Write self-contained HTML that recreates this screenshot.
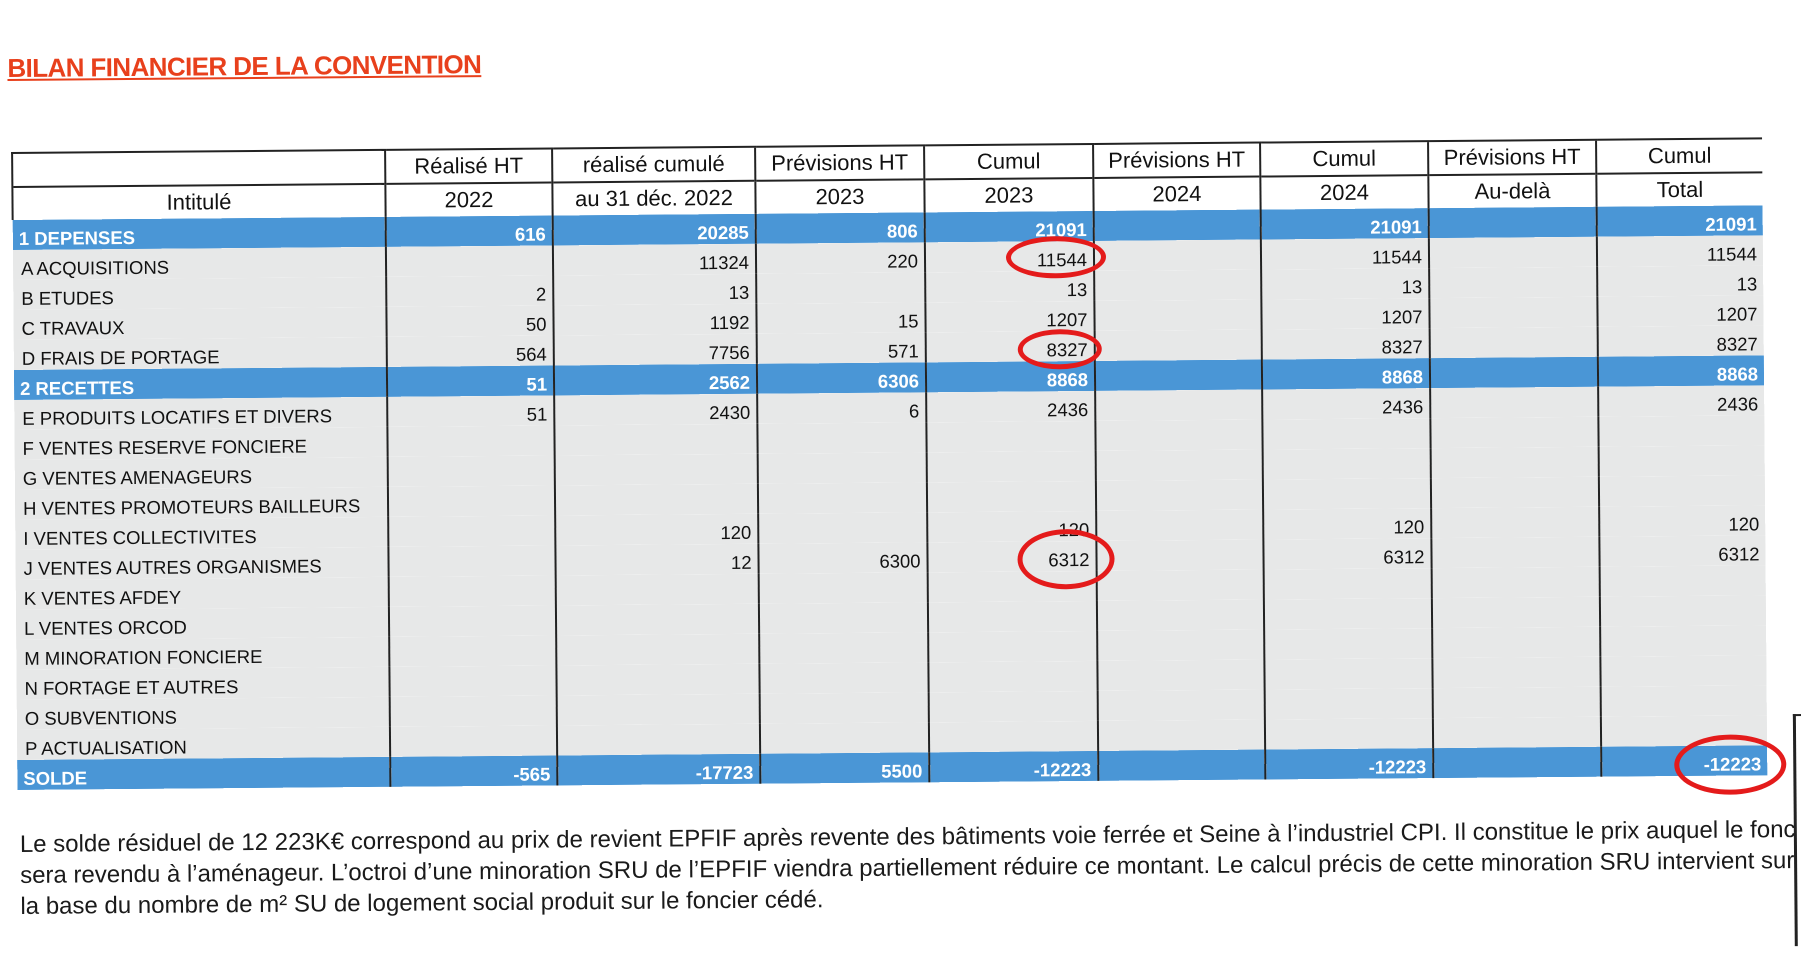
<!DOCTYPE html>
<html><head><meta charset="utf-8">
<style>
body{margin:0;width:1801px;height:945px;background:#fff;overflow:hidden;position:relative;font-family:"Liberation Sans",sans-serif;}
#page{position:absolute;left:0;top:0;width:1801px;height:945px;transform:rotate(-0.48deg);transform-origin:14px 500px;}
#title{position:absolute;left:11px;top:53px;font-weight:bold;font-size:26px;color:#e8401c;text-decoration:underline;text-decoration-color:#e8401c;letter-spacing:-0.6px;}
table{position:absolute;left:14px;top:152px;border-collapse:collapse;table-layout:fixed;width:1750px;}
td{padding:0 6px;font-size:18.5px;color:#111;white-space:nowrap;overflow:hidden;border-left:2px solid #222;text-align:right;vertical-align:bottom;}
td:first-child{text-align:left;border-left:none;}
tr.h td{background:#fff;text-align:center;font-size:22px;vertical-align:middle;}
tr.h1 td{border-top:2px solid #222;height:32px;}
tr.h2 td{border-top:2px solid #222;height:32px;}
tr.h2 td:first-child{border-left:2px solid #222;}
tr.h1 td:first-child{border-left:2px solid #222;}
tr.b td{background:#4a96d6;color:#fff;font-weight:bold;height:30px;}
tr.r td{background:#e7e8e8;height:30px;}
tr.r td:first-child{padding-left:8px;}
#para{position:absolute;left:17px;top:829px;width:1775px;font-size:24px;line-height:31px;color:#1a1a1a;white-space:nowrap;overflow:hidden;}
.ell{position:absolute;border:5px solid #e41b1b;border-radius:50%;box-sizing:border-box;}
#box{position:absolute;left:1791px;top:729px;width:20px;height:230px;border-left:3px solid #222;border-top:2px solid #222;}
</style></head><body>
<div id="page">
<div id="title">BILAN FINANCIER DE LA CONVENTION</div>
<table>
<colgroup><col style="width:373px"><col style="width:167px"><col style="width:203px"><col style="width:169px"><col style="width:169px"><col style="width:167px"><col style="width:168px"><col style="width:168px"><col style="width:166px"></colgroup>
<tr class="h h1"><td></td><td>Réalisé HT</td><td>réalisé cumulé</td><td>Prévisions HT</td><td>Cumul</td><td>Prévisions HT</td><td>Cumul</td><td>Prévisions HT</td><td>Cumul</td></tr>
<tr class="h h2"><td style="text-align:center">Intitulé</td><td>2022</td><td>au 31 déc. 2022</td><td>2023</td><td>2023</td><td>2024</td><td>2024</td><td>Au-delà</td><td>Total</td></tr>
<tr class="b"><td>1 DEPENSES</td><td>616</td><td>20285</td><td>806</td><td>21091</td><td></td><td>21091</td><td></td><td>21091</td></tr>
<tr class="r"><td>A ACQUISITIONS</td><td></td><td>11324</td><td>220</td><td>11544</td><td></td><td>11544</td><td></td><td>11544</td></tr>
<tr class="r"><td>B ETUDES</td><td>2</td><td>13</td><td></td><td>13</td><td></td><td>13</td><td></td><td>13</td></tr>
<tr class="r"><td>C TRAVAUX</td><td>50</td><td>1192</td><td>15</td><td>1207</td><td></td><td>1207</td><td></td><td>1207</td></tr>
<tr class="r"><td>D FRAIS DE PORTAGE</td><td>564</td><td>7756</td><td>571</td><td>8327</td><td></td><td>8327</td><td></td><td>8327</td></tr>
<tr class="b"><td>2 RECETTES</td><td>51</td><td>2562</td><td>6306</td><td>8868</td><td></td><td>8868</td><td></td><td>8868</td></tr>
<tr class="r"><td>E PRODUITS LOCATIFS ET DIVERS</td><td>51</td><td>2430</td><td>6</td><td>2436</td><td></td><td>2436</td><td></td><td>2436</td></tr>
<tr class="r"><td>F VENTES RESERVE FONCIERE</td><td></td><td></td><td></td><td></td><td></td><td></td><td></td><td></td></tr>
<tr class="r"><td>G VENTES AMENAGEURS</td><td></td><td></td><td></td><td></td><td></td><td></td><td></td><td></td></tr>
<tr class="r"><td>H VENTES PROMOTEURS BAILLEURS</td><td></td><td></td><td></td><td></td><td></td><td></td><td></td><td></td></tr>
<tr class="r"><td>I VENTES COLLECTIVITES</td><td></td><td>120</td><td></td><td>120</td><td></td><td>120</td><td></td><td>120</td></tr>
<tr class="r"><td>J VENTES AUTRES ORGANISMES</td><td></td><td>12</td><td>6300</td><td>6312</td><td></td><td>6312</td><td></td><td>6312</td></tr>
<tr class="r"><td>K VENTES AFDEY</td><td></td><td></td><td></td><td></td><td></td><td></td><td></td><td></td></tr>
<tr class="r"><td>L VENTES ORCOD</td><td></td><td></td><td></td><td></td><td></td><td></td><td></td><td></td></tr>
<tr class="r"><td>M MINORATION FONCIERE</td><td></td><td></td><td></td><td></td><td></td><td></td><td></td><td></td></tr>
<tr class="r"><td>N FORTAGE ET AUTRES</td><td></td><td></td><td></td><td></td><td></td><td></td><td></td><td></td></tr>
<tr class="r"><td>O SUBVENTIONS</td><td></td><td></td><td></td><td></td><td></td><td></td><td></td><td></td></tr>
<tr class="r"><td>P ACTUALISATION</td><td></td><td></td><td></td><td></td><td></td><td></td><td></td><td></td></tr>
<tr class="b"><td>SOLDE</td><td>-565</td><td>-17723</td><td>5500</td><td>-12223</td><td></td><td>-12223</td><td></td><td>-12223</td></tr>
</table>
<div class="ell" style="left:1008px;top:245px;width:100px;height:42px;"></div>
<div class="ell" style="left:1019px;top:338px;width:84px;height:40px;"></div>
<div class="ell" style="left:1017px;top:538px;width:97px;height:60px;"></div>
<div class="ell" style="left:1672px;top:749px;width:112px;height:60px;"></div>
<div id="para">Le solde résiduel de 12 223K€ correspond au prix de revient EPFIF après revente des bâtiments voie ferrée et Seine à l’industriel CPI. Il constitue le prix auquel le foncier<br>sera revendu à l’aménageur. L’octroi d’une minoration SRU de l’EPFIF viendra partiellement réduire ce montant. Le calcul précis de cette minoration SRU intervient sur<br>la base du nombre de m² SU de logement social produit sur le foncier cédé.</div>
<div id="box"></div>
</div>
</body></html>
